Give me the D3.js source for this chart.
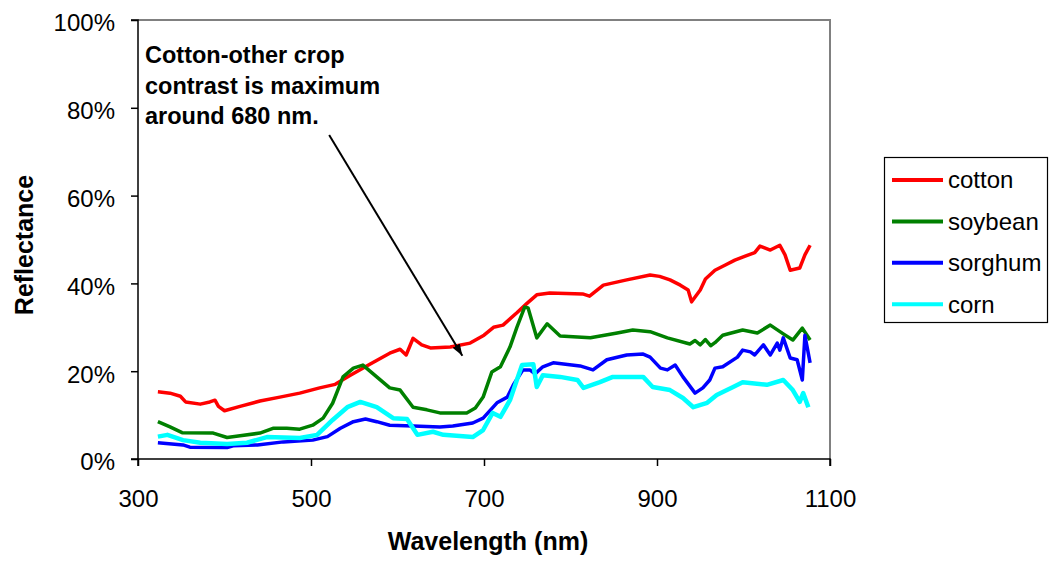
<!DOCTYPE html>
<html>
<head>
<meta charset="utf-8">
<script src="https://cdn.jsdelivr.net/npm/d3@7"></script>
<style>
  html, body { margin: 0; padding: 0; background: #fff; }
  svg { display: block; font-family: Arial, "Liberation Sans", sans-serif; }
</style>
</head>
<body>
<svg id="chart" width="1050" height="561"></svg>
<script>
// Reflectance spectra: [wavelength (nm), reflectance (%)]
const cotton = [[323,15.3],[337,15],[349,14.3],[355,13],[372,12.5],[383,13],[389,13.4],[393,12],[400,11],[418,12],[441,13.2],[464,14.1],[487,15],[510,16.2],[528,17],[545,19],[568,21.6],[591,24.1],[603,25],[610,23.7],[618,27.5],[628,26],[638,25.3],[661,25.5],[684,26.4],[700,28.2],[711,30],[722,30.5],[738,33.3],[750,35.5],[761,37.4],[776,37.8],[814,37.6],[822,37.1],[838,39.6],[865,40.8],[892,41.9],[903,41.6],[915,40.8],[927,39.6],[936,38.5],[940,35.8],[950,38.5],[956,41],[967,43],[979,44.2],[990,45.3],[1002,46.2],[1013,47],[1019,48.5],[1031,47.6],[1042,48.7],[1048,46.5],[1054,43],[1065,43.5],[1071,46.5],[1077,48.7]];
const soybean = [[323,8.5],[337,7.3],[351,6],[387,5.9],[403,4.9],[418,5.3],[441,5.9],[456,7],[472,7],[487,6.8],[502,7.7],[514,9.3],[525,12.7],[537,18.7],[549,20.7],[560,21.4],[576,18.7],[591,16.2],[603,15.7],[618,11.8],[634,11.2],[649,10.5],[680,10.5],[690,11.6],[699,14.1],[709,19.8],[719,21],[730,25.5],[738,30],[747,34.6],[751,34.4],[761,27.6],[773,30.8],[788,28],[823,27.6],[854,28.7],[872,29.4],[892,29],[912,27.6],[938,26.2],[944,27],[950,26],[956,27.2],[962,25.8],[967,26.5],[976,28.2],[999,29.4],[1016,28.7],[1031,30.5],[1046,28.5],[1057,27.1],[1068,29.8],[1077,27.1]];
const sorghum = [[323,3.7],[352,3.2],[360,2.7],[403,2.6],[410,3],[438,3.2],[468,3.9],[502,4.3],[519,5.1],[534,7],[549,8.5],[563,9.1],[576,8.5],[591,7.7],[618,7.5],[649,7.3],[664,7.5],[687,8.2],[699,9.3],[715,12.8],[727,14.1],[734,16.9],[745,20.3],[753,20.3],[759,19.4],[768,21],[780,21.9],[811,21.2],[826,20.3],[842,22.6],[865,23.7],[884,23.9],[892,23.2],[904,20.7],[912,20.3],[921,21.4],[930,18.7],[944,15],[953,16.2],[961,18],[967,20.7],[976,21],[993,23.2],[999,24.8],[1008,24.4],[1013,23.7],[1023,26],[1031,23.7],[1039,26.4],[1042,24.8],[1046,27.6],[1054,23],[1062,22.6],[1068,18],[1071,28.2],[1077,21.9]];
const corn = [[323,5.1],[334,5.5],[352,4.3],[372,3.7],[403,3.4],[426,3.7],[449,5],[487,4.8],[507,5.5],[525,8.9],[542,11.8],[557,13],[576,11.8],[595,9.3],[611,9.1],[623,5.5],[641,6.2],[653,5.5],[687,5],[699,6.6],[710,10.5],[719,9.6],[730,13.4],[738,18],[744,21.4],[757,21.6],[761,16.4],[768,19.1],[788,18.7],[808,18],[815,16.2],[834,17.5],[849,18.7],[884,18.7],[895,16.4],[915,15.7],[930,13.9],[942,11.8],[958,12.8],[969,14.6],[988,16.4],[999,17.5],[1027,16.9],[1046,18],[1057,15.7],[1065,13],[1069,15],[1075,11.8]];

const seriesNames = ["cotton", "soybean", "sorghum", "corn"];
const seriesData = [cotton, soybean, sorghum, corn];
const seriesColors = ["#ff0000", "#008000", "#0000ff", "#00ffff"];
const seriesWidths = [3.5, 3.5, 3.5, 4.5];

const xTicks = [300, 500, 700, 900, 1100];
const yTicks = [0, 20, 40, 60, 80, 100];

const noteLines = ["Cotton-other crop", "contrast is maximum", "around 680 nm."];
const arrowFrom = [521, 73.8];
const arrowTo = [675, 23.5];

const svg = d3.select("#chart");
const L = 138, R = 830, T = 20, B = 459;

const x = d3.scaleLinear().domain([300, 1100]).range([L, R]);
const y = d3.scaleLinear().domain([0, 100]).range([B, T]);

// plot frame (top/right edges)
svg.append("path")
  .attr("d", `M${L},${T}H${R}V${B}`)
  .attr("fill", "none").attr("stroke", "#808080").attr("stroke-width", 2);

// axes
const yAxis = svg.append("g").attr("transform", `translate(${L},0)`)
  .call(d3.axisLeft(y).tickValues(yTicks).tickFormat(d => d + "%").tickSize(7).tickPadding(16));
const xAxis = svg.append("g").attr("transform", `translate(0,${B})`)
  .call(d3.axisBottom(x).tickValues(xTicks).tickFormat(d3.format("d")).tickSize(7).tickPadding(24));

[yAxis, xAxis].forEach(g => {
  g.select(".domain").attr("stroke", "#000").attr("stroke-width", 1.5);
  g.selectAll(".tick line").attr("stroke", "#000").attr("stroke-width", 1.5);
  g.selectAll(".tick text").attr("fill", "#000")
    .style("font-size", "24px").style("font-family", "Arial, 'Liberation Sans', sans-serif");
});
yAxis.selectAll(".domain").attr("d", `M-7,${B}H0V${T}H-7`);
yAxis.selectAll(".tick text").attr("dy", "0.45em");
xAxis.selectAll(".domain").attr("d", `M${L},7V0H${R}V7`);

// series lines
const line = d3.line().x(d => x(d[0])).y(d => y(d[1]));
seriesData.forEach((data, i) => {
  svg.append("path")
    .datum(data)
    .attr("d", line)
    .attr("fill", "none")
    .attr("stroke", seriesColors[i])
    .attr("stroke-width", seriesWidths[i])
    .attr("stroke-linejoin", "round");
});

// axis titles
svg.append("text")
  .attr("x", 488).attr("y", 550)
  .attr("text-anchor", "middle")
  .style("font-size", "25px").style("font-weight", "bold")
  .text("Wavelength (nm)");
svg.append("text")
  .attr("transform", "translate(33,245) rotate(-90)")
  .attr("text-anchor", "middle")
  .style("font-size", "25px").style("font-weight", "bold")
  .text("Reflectance");

// annotation
const note = svg.append("text")
  .style("font-size", "23.5px").style("font-weight", "bold");
noteLines.forEach((t, i) => {
  note.append("tspan").attr("x", 145).attr("y", 63 + i * 30.5).text(t);
});

svg.append("defs").append("marker")
  .attr("id", "arrowhead")
  .attr("viewBox", "0 0 10 10")
  .attr("refX", 10).attr("refY", 5)
  .attr("markerWidth", 6).attr("markerHeight", 6)
  .attr("markerUnits", "strokeWidth")
  .attr("orient", "auto")
  .append("path").attr("d", "M0,1.5L10,5L0,8.5Z").attr("fill", "#000");

svg.append("line")
  .attr("x1", x(arrowFrom[0])).attr("y1", y(arrowFrom[1]))
  .attr("x2", x(arrowTo[0])).attr("y2", y(arrowTo[1]))
  .attr("stroke", "#000").attr("stroke-width", 2)
  .attr("marker-end", "url(#arrowhead)");

// legend
const legend = svg.append("g");
legend.append("rect")
  .attr("x", 884.5).attr("y", 157.5).attr("width", 163).attr("height", 165)
  .attr("fill", "#fff").attr("stroke", "#000").attr("stroke-width", 1.2);
seriesNames.forEach((name, i) => {
  const cy = 180 + i * 41.4;
  legend.append("line")
    .attr("x1", 892).attr("x2", 943).attr("y1", cy).attr("y2", cy)
    .attr("stroke", seriesColors[i]).attr("stroke-width", 4);
  legend.append("text")
    .attr("x", 948).attr("y", cy).attr("dy", "0.35em")
    .style("font-size", "24px")
    .text(name);
});
</script>
</body>
</html>
